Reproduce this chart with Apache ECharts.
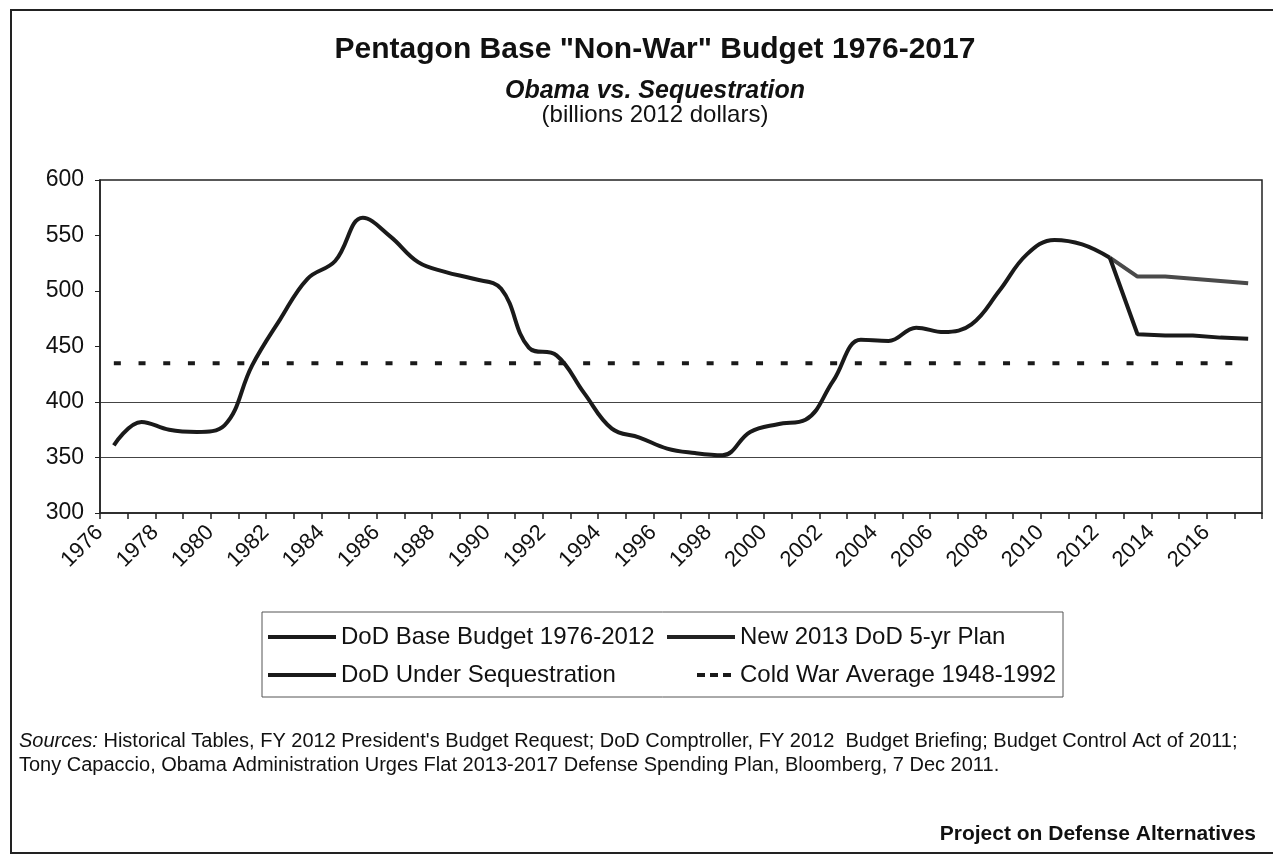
<!DOCTYPE html>
<html>
<head>
<meta charset="utf-8">
<script src="https://cdn.jsdelivr.net/npm/echarts@6/dist/echarts.min.js"></script>
<style>
html,body{margin:0;padding:0;background:#fff;}
#chart{width:1273px;height:865px;}
</style>
</head>
<body>
<div id="chart"></div>
<script>
// ---- data (billions of 2012 dollars) ----
const years = ['1976','1977','1978','1979','1980','1981','1982','1983','1984','1985',
  '1986','1987','1988','1989','1990','1991','1992','1993','1994','1995',
  '1996','1997','1998','1999','2000','2001','2002','2003','2004','2005',
  '2006','2007','2008','2009','2010','2011','2012','2013','2014','2015','2016','2017'];

const baseBudget = [361,382,375,373,379,433,474,511,527,566,
  549,526,517,511,502,449,442,408,376,368,
  358,354,352,373,380,384,419,456,455,467,
  463,470,500,533,546,542,530,null,null,null,null,null];

const obamaPlan = [null,null,null,null,null,null,null,null,null,null,
  null,null,null,null,null,null,null,null,null,null,
  null,null,null,null,null,null,null,null,null,null,
  null,null,null,null,null,null,530,513,513,511,509,507];

const sequestration = [null,null,null,null,null,null,null,null,null,null,
  null,null,null,null,null,null,null,null,null,null,
  null,null,null,null,null,null,null,null,null,null,
  null,null,null,null,null,null,530,461,460,460,458,457];

const coldWarAverage = [435,435,435,435,435,435,435,435,435,435,
  435,435,435,435,435,435,435,435,435,435,
  435,435,435,435,435,435,435,435,435,435,
  435,435,435,435,435,435,435,435,435,435,435,435];

const seriesNames = ['DoD Base Budget 1976-2012','New 2013 DoD 5-yr Plan','DoD Under Sequestration','Cold War Average 1948-1992'];
const yMin = 300, yMax = 600, yStep = 50;

// ---- chart ----
const FONT = "'Liberation Sans', Arial, sans-serif";
const SOLID_ICON = 'path://M0,0h68v4h-68z';
const DASH_ICON = 'path://M0,0h0.01v0.01h-0.01z M67.99,3.99h0.01v0.01h-0.01z M30,0h8v4h-8z M43,0h8v4h-8z M56,0h8v4h-8z';
const chart = echarts.init(document.getElementById('chart'), null, {renderer:'canvas'});

const legendCommon = {
  orient: 'vertical', padding: 0, itemGap: 14, itemWidth: 68, itemHeight: 14,
  itemStyle: {borderWidth: 0},
  textStyle: {fontFamily: FONT, fontSize: 24, color: '#111', lineHeight: 24}
};

chart.setOption({
  backgroundColor: '#ffffff',
  animation: false,
  title: [
    {text: 'Pentagon Base "Non-War" Budget 1976-2017', left: 650, top: 30, textAlign: 'center',
     textStyle: {fontFamily: FONT, fontSize: 30, fontWeight: 'bold', color: '#111'}},
    {text: 'Obama vs. Sequestration', left: 650, top: 74, textAlign: 'center',
     textStyle: {fontFamily: FONT, fontSize: 25, fontWeight: 'bold', fontStyle: 'italic', color: '#111'}},
    {text: '(billions 2012 dollars)', left: 650, top: 98, textAlign: 'center',
     textStyle: {fontFamily: FONT, fontSize: 24, fontWeight: 'normal', color: '#111'}}
  ],
  grid: {left: 100, right: 11, top: 180, bottom: 352, show: true, borderColor: '#222', borderWidth: 1.5, backgroundColor: 'transparent'},
  legend: [
    Object.assign({left: 268, top: 625,
      data: [{name: seriesNames[0], icon: SOLID_ICON}, {name: seriesNames[2], icon: SOLID_ICON}]}, legendCommon),
    Object.assign({left: 667, top: 625,
      data: [{name: seriesNames[1], icon: SOLID_ICON}, {name: seriesNames[3], icon: DASH_ICON}]}, legendCommon)
  ],
  xAxis: {
    type: 'category', data: years, boundaryGap: true,
    axisLine: {show: true, lineStyle: {color: '#222', width: 1.5}},
    axisTick: {show: true, interval: 0, length: 6, lineStyle: {color: '#222', width: 1.5}},
    axisLabel: {interval: 1, rotate: 45, margin: 2, padding: [0, 20, 0, 0], fontFamily: FONT, fontSize: 22, color: '#111'},
    splitLine: {show: false}
  },
  yAxis: {
    type: 'value', min: yMin, max: yMax, interval: yStep,
    axisLine: {show: true, lineStyle: {color: '#222', width: 1.5}},
    axisTick: {show: true, length: 5, lineStyle: {color: '#222'}},
    axisLabel: {margin: 16, fontFamily: FONT, fontSize: 23, color: '#111'},
    splitLine: {show: true, lineStyle: {width: 1.2, color: ['rgba(0,0,0,0)', '#444', '#444', 'rgba(0,0,0,0)', 'rgba(0,0,0,0)', 'rgba(0,0,0,0)', 'rgba(0,0,0,0)']}}
  },
  series: [
    {name: seriesNames[0], type: 'line', data: baseBudget, smooth: 0.4, symbol: 'none', z: 4,
     lineStyle: {color: '#1a1a1a', width: 4}, itemStyle: {color: '#1a1a1a'}},
    {name: seriesNames[1], type: 'line', data: obamaPlan, smooth: false, symbol: 'none', z: 3,
     lineStyle: {color: '#4a4a4a', width: 4}, itemStyle: {color: '#222'}},
    {name: seriesNames[2], type: 'line', data: sequestration, smooth: false, symbol: 'none', z: 3,
     lineStyle: {color: '#1a1a1a', width: 4}, itemStyle: {color: '#1a1a1a'}},
    {name: seriesNames[3], type: 'line', data: coldWarAverage, smooth: false, symbol: 'none', z: 2,
     lineStyle: {color: '#1a1a1a', width: 4, type: [7, 17.7], cap: 'butt'}, itemStyle: {color: '#1a1a1a'}}
  ],
  graphic: [
    {type: 'rect', silent: true, shape: {x: 11, y: 10, width: 1300, height: 843},
     style: {fill: null, stroke: '#222', lineWidth: 2}},
    {type: 'rect', silent: true, shape: {x: 262, y: 612, width: 801, height: 85},
     style: {fill: null, stroke: '#555', lineWidth: 1}},
    {type: 'text', silent: true, x: 19, y: 741,
     style: {text: '{i|Sources:} Historical Tables, FY 2012 President\'s Budget Request; DoD Comptroller, FY 2012  Budget Briefing; Budget Control Act of 2011;',
       font: '20px ' + FONT, fill: '#111', verticalAlign: 'middle',
       rich: {i: {fontStyle: 'italic', fontSize: 20, fontFamily: FONT, fill: '#111'}}}},
    {type: 'text', silent: true, x: 19, y: 765,
     style: {text: 'Tony Capaccio, Obama Administration Urges Flat 2013-2017 Defense Spending Plan, Bloomberg, 7 Dec 2011.',
       font: '20px ' + FONT, fill: '#111', verticalAlign: 'middle'}},
    {type: 'text', silent: true, x: 1256, y: 834,
     style: {text: 'Project on Defense Alternatives', font: 'bold 21px ' + FONT, fill: '#111', align: 'right', verticalAlign: 'middle'}}
  ]
});
</script>
</body>
</html>
